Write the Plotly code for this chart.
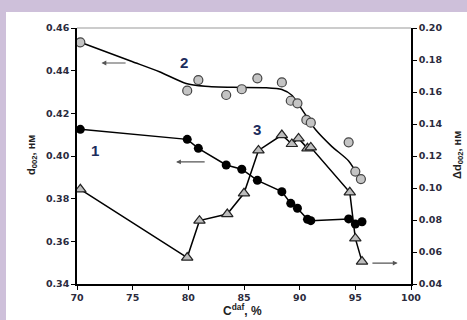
import plotly.graph_objects as go

# Series 1: d002 (left axis), black circles
s1_x = [70.3, 79.9, 80.9, 83.4, 84.8, 86.2, 88.4, 89.2, 89.8, 90.7, 91.0, 94.4, 95.0, 95.6]
s1_y = [0.4125, 0.4078, 0.4036, 0.3958, 0.3938, 0.3886, 0.3833, 0.3778, 0.3755, 0.3703, 0.3697, 0.3705, 0.3681, 0.3692]

# Series 2: d002 (left axis), grey circles + smooth trend
s2_x = [70.3, 79.9, 80.9, 83.4, 84.8, 86.2, 88.4, 89.2, 89.8, 90.6, 91.0, 94.4, 95.0, 95.5]
s2_y = [0.4533, 0.4306, 0.4356, 0.4286, 0.4313, 0.4364, 0.4345, 0.4259, 0.4247, 0.4169, 0.4156, 0.4064, 0.3927, 0.3892]
trend_x = [70.3, 75.0, 77.4, 79.8, 81.5, 84.0, 87.0, 88.4, 89.3, 91.4, 92.9, 94.4, 95.4]
trend_y = [0.4533, 0.4442, 0.4395, 0.4340, 0.4327, 0.4322, 0.4320, 0.4312, 0.4285, 0.4125, 0.4044, 0.3977, 0.3895]

# Series 3: delta d002 (right axis), grey triangles
s3_x = [70.3, 79.9, 81.0, 83.5, 85.0, 86.3, 88.4, 89.3, 89.9, 90.7, 91.0, 94.5, 95.0, 95.6]
s3_y = [0.0992, 0.0565, 0.0796, 0.0837, 0.0967, 0.1235, 0.1331, 0.1275, 0.1310, 0.1248, 0.1254, 0.0973, 0.0685, 0.0540]

x_ticks = [70, 75, 80, 85, 90, 95, 100]
left_ticks = [0.34, 0.36, 0.38, 0.40, 0.42, 0.44, 0.46]
right_ticks = [0.04, 0.06, 0.08, 0.10, 0.12, 0.14, 0.16, 0.18, 0.20]

# Labels and arrows
label_text = ["1", "2", "3"]
label_x = [71.6, 79.6, 86.2]
label_y = [0.4028, 0.4440, 0.4122]
arrow_from_x = [81.6, 74.5, 96.4]
arrow_to_x = [78.9, 72.2, 98.8]
arrow_y = [0.3972, 0.4436, 0.3498]

fig = go.Figure()

fig.add_trace(go.Scatter(x=trend_x, y=trend_y, mode="lines", line=dict(color="black", width=1.5, shape="spline", smoothing=0.6),
                         showlegend=False, hoverinfo="skip"))
fig.add_trace(go.Scatter(x=s2_x, y=s2_y, mode="markers",
                         marker=dict(symbol="circle", size=9, color="#c4c4c4", line=dict(color="#444", width=1.2)),
                         showlegend=False))
fig.add_trace(go.Scatter(x=s1_x, y=s1_y, mode="lines+markers", line=dict(color="black", width=1.5),
                         marker=dict(symbol="circle", size=9, color="black"), showlegend=False))
fig.add_trace(go.Scatter(x=s3_x, y=s3_y, mode="lines+markers", yaxis="y2", line=dict(color="black", width=1.5),
                         marker=dict(symbol="triangle-up", size=10, color="#bdbdbd", line=dict(color="#222", width=1.2)),
                         showlegend=False))

tickfont = dict(family="DejaVu Sans", size=9.5, color="#2b2b3d", weight="bold")

fig.update_layout(
    width=467, height=320,
    margin=dict(l=77, r=56, t=28, b=36, autoexpand=False),
    paper_bgcolor="white", plot_bgcolor="white",
    xaxis=dict(range=[70, 100], tickvals=x_ticks, ticks="outside", ticklen=4, tickcolor="black",
               showline=True, linecolor="black", linewidth=1.5, showgrid=False, zeroline=False,
               tickfont=tickfont, automargin=False),
    yaxis=dict(range=[0.34, 0.46], tickvals=left_ticks, tickformat=".2f", ticks="outside", ticklen=4,
               tickcolor="black", showline=True, linecolor="black", linewidth=1.5, showgrid=False,
               zeroline=False, tickfont=tickfont, automargin=False),
    yaxis2=dict(range=[0.04, 0.20], tickvals=right_ticks, tickformat=".2f", ticks="outside", ticklen=4,
                tickcolor="black", showline=True, linecolor="black", linewidth=1.5, showgrid=False,
                zeroline=False, overlaying="y", side="right", tickfont=tickfont, automargin=False),
    showlegend=False,
)

shapes = [
    dict(type="rect", xref="paper", yref="paper", x0=-0.3, x1=1.3, y0=(284 - 12) / 256, y1=1.3,
         fillcolor="#cec0da", line=dict(width=0), layer="below"),
    dict(type="rect", xref="paper", yref="paper", x0=-0.3, x1=(6 - 77) / 334, y0=-0.3, y1=1.3,
         fillcolor="#cec0da", line=dict(width=0), layer="below"),
    dict(type="line", xref="paper", yref="paper", x0=0, x1=1, y0=1, y1=1,
         line=dict(color="#999", width=1)),
]
fig.update_layout(shapes=shapes)

annotations = []
for t, x, y in zip(label_text, label_x, label_y):
    annotations.append(dict(x=x, y=y, xref="x", yref="y", text=t, showarrow=False,
                            font=dict(family="Liberation Sans, Arial", size=15, color="#1c2c5c", weight="bold")))
for x0, x1, y in zip(arrow_from_x, arrow_to_x, arrow_y):
    annotations.append(dict(x=x1, y=y, ax=x0, ay=y, xref="x", yref="y", axref="x", ayref="y", text="",
                            showarrow=True, arrowhead=2, arrowsize=0.8, arrowwidth=1.2, arrowcolor="#555"))
annotations.append(dict(x=(242 - 77) / 334, y=(284 - 320) / 256, xref="paper", yref="paper",
                        yanchor="bottom", text="C<sup>daf</sup>, %", showarrow=False,
                        font=dict(family="Liberation Sans, Arial", size=12, color="#222", weight="bold")))
annotations.append(dict(x=(23 - 77) / 334, y=(284 - 155) / 256, xref="paper", yref="paper", textangle=-90,
                        text="d<sub>002</sub>, нм", showarrow=False,
                        font=dict(family="Liberation Sans, Arial", size=11, color="#222", weight="bold")))
annotations.append(dict(x=(467 - 77) / 334, y=(284 - 155) / 256, xref="paper", yref="paper", textangle=-90,
                        xanchor="right", text="Δd<sub>002</sub>, нм", showarrow=False,
                        font=dict(family="Liberation Sans, Arial", size=11, color="#222", weight="bold")))
fig.update_layout(annotations=annotations)

fig.write_html("out.html", config={"displayModeBar": False},
               post_script="document.body.style.margin='0';document.body.style.padding='0';")
